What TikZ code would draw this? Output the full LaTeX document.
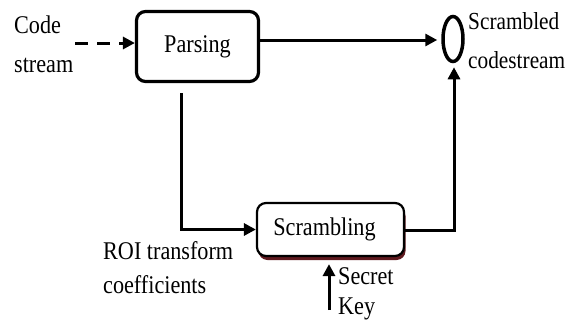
\documentclass[tikz,border=0pt]{standalone}
\usepackage{fontspec}
\setmainfont{Liberation Serif}[FakeStretch=0.87]
\usetikzlibrary{arrows.meta,shapes.geometric,shadows}
\definecolor{shadowred}{RGB}{95,25,30}
\tikzset{
  blk/.style={draw, rounded corners=9pt, fill=white, font=\fontsize{25.5}{28}\selectfont},
  lbl/.style={align=left, inner sep=0pt, anchor=north west},
  conn/.style={line width=3pt, -{Triangle[length=12pt,width=12pt]}},
}
\begin{document}
\begin{tikzpicture}[x=1pt,y=-1pt]
\useasboundingbox (0,0) rectangle (579,335);
\node[blk, line width=3.2pt, minimum width=122pt, minimum height=70pt] (parse) at (197.5,46.5) {Parsing};
\node[blk, line width=2.2pt, minimum width=147pt, minimum height=53pt,
  drop shadow={shadow xshift=1.5pt, shadow yshift=-4pt, fill=shadowred, opacity=1}] (scr) at (330.5,229.5) {\hspace*{-12pt}Scrambling};
\node[draw, ellipse, line width=3.5pt, minimum width=20pt, minimum height=45pt, inner sep=0pt] (out) at (453,39) {};
\node[lbl, font=\fontsize{25.5}{39}\selectfont] (cs) at (14,16) {Code\\stream};
\node[lbl, font=\fontsize{24.5}{39}\selectfont] (sc) at (468,12) {Scrambled\\codestream};
\node[lbl, font=\fontsize{25.5}{34}\selectfont] (roi) at (103,241) {ROI transform\\coefficients};
\node[lbl, font=\fontsize{25.5}{30}\selectfont] (key) at (338,267.5) {Secret\\Key};
\coordinate (cin) at (75,43);
\coordinate (pdown) at (181.5,93);
\coordinate (kin) at (329,310);
\coordinate (sright) at (454,230);
\draw[conn, dash pattern=on 13pt off 9pt] (cin) -- (cin -| parse.west);
\draw[conn, shorten >=4pt] (parse.east |- 0,40) -- (out.west |- 0,40);
\draw[conn] (pdown) -- (pdown |- scr.west) -- (scr.west);
\draw[conn, shorten >=4pt] (scr.east |- sright) -- (sright) -- (sright |- out.south);
\draw[conn, shorten >=7pt] (kin) -- (kin |- scr.south);
\end{tikzpicture}
\end{document}
